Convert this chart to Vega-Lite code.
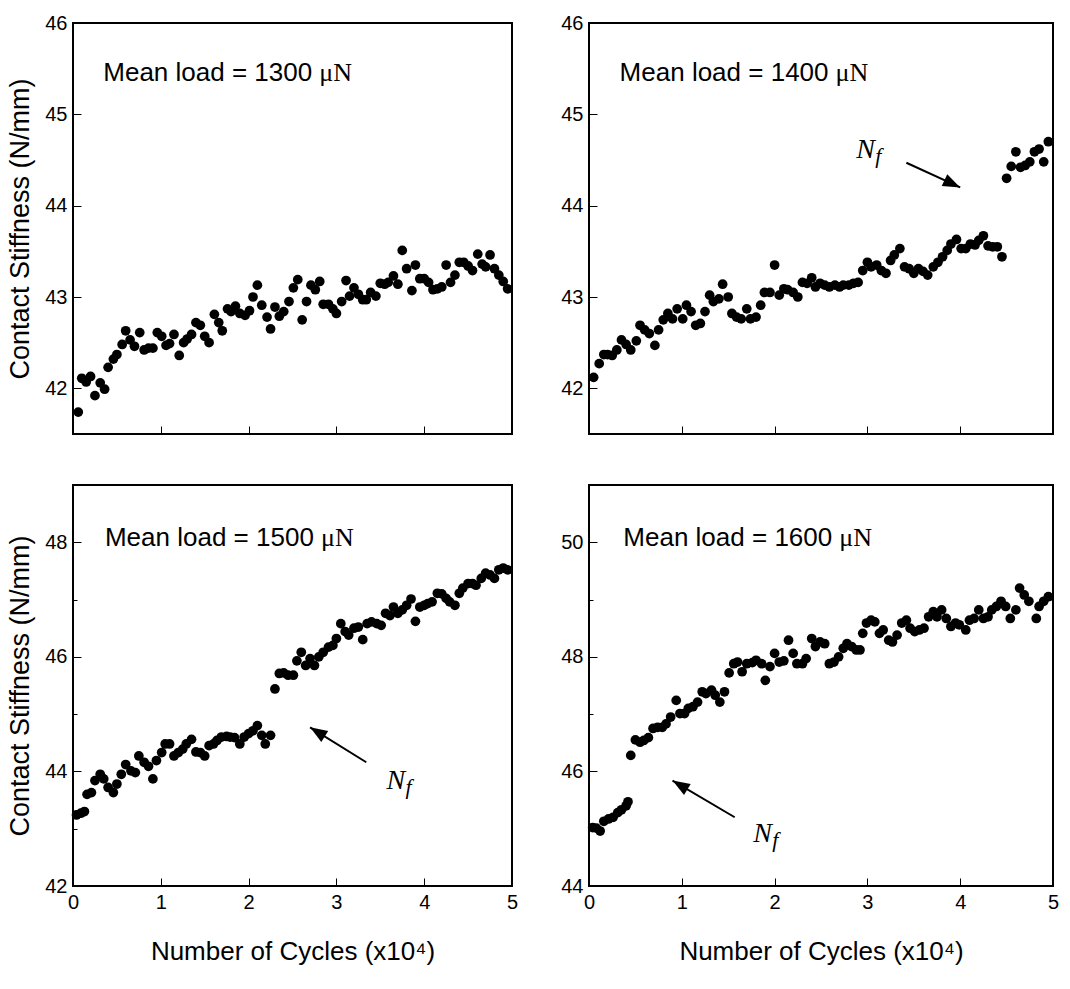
{
  "$schema": "https://vega.github.io/schema/vega-lite/v6.json",
  "padding": {"left": 5, "top": 12, "right": 8, "bottom": 10},
  "background": "white",
  "bounds": "flush",
  "columns": 2,
  "spacing": {"row": 51, "column": 77},
  "datasets": {
    "pts": [
      {"load":1300,"cycles":0.06,"stiffness":41.74},{"load":1300,"cycles":0.10,"stiffness":42.11},{"load":1300,"cycles":0.15,"stiffness":42.07},{"load":1300,"cycles":0.20,"stiffness":42.13},{"load":1300,"cycles":0.25,"stiffness":41.92},{"load":1300,"cycles":0.31,"stiffness":42.06},{"load":1300,"cycles":0.36,"stiffness":41.99},{"load":1300,"cycles":0.40,"stiffness":42.23},{"load":1300,"cycles":0.46,"stiffness":42.32},{"load":1300,"cycles":0.50,"stiffness":42.37},{"load":1300,"cycles":0.56,"stiffness":42.48},{"load":1300,"cycles":0.60,"stiffness":42.63},{"load":1300,"cycles":0.65,"stiffness":42.53},{"load":1300,"cycles":0.70,"stiffness":42.46},{"load":1300,"cycles":0.76,"stiffness":42.61},{"load":1300,"cycles":0.81,"stiffness":42.42},{"load":1300,"cycles":0.86,"stiffness":42.44},{"load":1300,"cycles":0.91,"stiffness":42.44},{"load":1300,"cycles":0.96,"stiffness":42.61},{"load":1300,"cycles":1.01,"stiffness":42.57},{"load":1300,"cycles":1.06,"stiffness":42.47},{"load":1300,"cycles":1.10,"stiffness":42.49},{"load":1300,"cycles":1.15,"stiffness":42.59},{"load":1300,"cycles":1.21,"stiffness":42.36},{"load":1300,"cycles":1.26,"stiffness":42.50},{"load":1300,"cycles":1.30,"stiffness":42.54},{"load":1300,"cycles":1.35,"stiffness":42.59},{"load":1300,"cycles":1.40,"stiffness":42.72},{"load":1300,"cycles":1.45,"stiffness":42.69},{"load":1300,"cycles":1.50,"stiffness":42.57},{"load":1300,"cycles":1.55,"stiffness":42.50},{"load":1300,"cycles":1.61,"stiffness":42.81},{"load":1300,"cycles":1.66,"stiffness":42.72},{"load":1300,"cycles":1.70,"stiffness":42.63},{"load":1300,"cycles":1.76,"stiffness":42.87},{"load":1300,"cycles":1.80,"stiffness":42.84},{"load":1300,"cycles":1.85,"stiffness":42.90},{"load":1300,"cycles":1.90,"stiffness":42.82},{"load":1300,"cycles":1.96,"stiffness":42.80},{"load":1300,"cycles":2.01,"stiffness":42.85},{"load":1300,"cycles":2.05,"stiffness":43.00},{"load":1300,"cycles":2.10,"stiffness":43.13},{"load":1300,"cycles":2.15,"stiffness":42.91},{"load":1300,"cycles":2.21,"stiffness":42.78},{"load":1300,"cycles":2.25,"stiffness":42.65},{"load":1300,"cycles":2.30,"stiffness":42.89},{"load":1300,"cycles":2.35,"stiffness":42.79},{"load":1300,"cycles":2.40,"stiffness":42.84},{"load":1300,"cycles":2.46,"stiffness":42.95},{"load":1300,"cycles":2.51,"stiffness":43.10},{"load":1300,"cycles":2.56,"stiffness":43.19},{"load":1300,"cycles":2.61,"stiffness":42.75},{"load":1300,"cycles":2.66,"stiffness":42.95},{"load":1300,"cycles":2.71,"stiffness":43.13},{"load":1300,"cycles":2.76,"stiffness":43.08},{"load":1300,"cycles":2.81,"stiffness":43.17},{"load":1300,"cycles":2.85,"stiffness":42.92},{"load":1300,"cycles":2.91,"stiffness":42.92},{"load":1300,"cycles":2.96,"stiffness":42.87},{"load":1300,"cycles":3.00,"stiffness":42.82},{"load":1300,"cycles":3.06,"stiffness":42.95},{"load":1300,"cycles":3.11,"stiffness":43.18},{"load":1300,"cycles":3.15,"stiffness":43.01},{"load":1300,"cycles":3.20,"stiffness":43.10},{"load":1300,"cycles":3.25,"stiffness":43.03},{"load":1300,"cycles":3.30,"stiffness":42.97},{"load":1300,"cycles":3.34,"stiffness":42.97},{"load":1300,"cycles":3.39,"stiffness":43.05},{"load":1300,"cycles":3.45,"stiffness":43.01},{"load":1300,"cycles":3.50,"stiffness":43.15},{"load":1300,"cycles":3.55,"stiffness":43.14},{"load":1300,"cycles":3.59,"stiffness":43.16},{"load":1300,"cycles":3.65,"stiffness":43.23},{"load":1300,"cycles":3.70,"stiffness":43.14},{"load":1300,"cycles":3.75,"stiffness":43.51},{"load":1300,"cycles":3.80,"stiffness":43.31},{"load":1300,"cycles":3.86,"stiffness":43.07},{"load":1300,"cycles":3.90,"stiffness":43.35},{"load":1300,"cycles":3.95,"stiffness":43.20},{"load":1300,"cycles":4.00,"stiffness":43.20},{"load":1300,"cycles":4.05,"stiffness":43.16},{"load":1300,"cycles":4.10,"stiffness":43.08},{"load":1300,"cycles":4.15,"stiffness":43.09},{"load":1300,"cycles":4.20,"stiffness":43.11},{"load":1300,"cycles":4.25,"stiffness":43.35},{"load":1300,"cycles":4.30,"stiffness":43.16},{"load":1300,"cycles":4.35,"stiffness":43.24},{"load":1300,"cycles":4.40,"stiffness":43.38},{"load":1300,"cycles":4.45,"stiffness":43.38},{"load":1300,"cycles":4.50,"stiffness":43.34},{"load":1300,"cycles":4.55,"stiffness":43.29},{"load":1300,"cycles":4.61,"stiffness":43.47},{"load":1300,"cycles":4.66,"stiffness":43.36},{"load":1300,"cycles":4.70,"stiffness":43.33},{"load":1300,"cycles":4.75,"stiffness":43.46},{"load":1300,"cycles":4.80,"stiffness":43.31},{"load":1300,"cycles":4.85,"stiffness":43.24},{"load":1300,"cycles":4.90,"stiffness":43.17},{"load":1300,"cycles":4.95,"stiffness":43.09},

      {"load":1400,"cycles":0.05,"stiffness":42.12},{"load":1400,"cycles":0.11,"stiffness":42.27},{"load":1400,"cycles":0.16,"stiffness":42.37},{"load":1400,"cycles":0.20,"stiffness":42.37},{"load":1400,"cycles":0.25,"stiffness":42.36},{"load":1400,"cycles":0.30,"stiffness":42.42},{"load":1400,"cycles":0.35,"stiffness":42.53},{"load":1400,"cycles":0.40,"stiffness":42.48},{"load":1400,"cycles":0.45,"stiffness":42.42},{"load":1400,"cycles":0.51,"stiffness":42.52},{"load":1400,"cycles":0.55,"stiffness":42.69},{"load":1400,"cycles":0.60,"stiffness":42.64},{"load":1400,"cycles":0.65,"stiffness":42.60},{"load":1400,"cycles":0.71,"stiffness":42.47},{"load":1400,"cycles":0.75,"stiffness":42.64},{"load":1400,"cycles":0.80,"stiffness":42.75},{"load":1400,"cycles":0.85,"stiffness":42.82},{"load":1400,"cycles":0.90,"stiffness":42.76},{"load":1400,"cycles":0.95,"stiffness":42.87},{"load":1400,"cycles":1.01,"stiffness":42.76},{"load":1400,"cycles":1.05,"stiffness":42.91},{"load":1400,"cycles":1.10,"stiffness":42.84},{"load":1400,"cycles":1.15,"stiffness":42.69},{"load":1400,"cycles":1.20,"stiffness":42.71},{"load":1400,"cycles":1.25,"stiffness":42.84},{"load":1400,"cycles":1.30,"stiffness":43.02},{"load":1400,"cycles":1.34,"stiffness":42.95},{"load":1400,"cycles":1.40,"stiffness":42.98},{"load":1400,"cycles":1.44,"stiffness":43.14},{"load":1400,"cycles":1.50,"stiffness":43.00},{"load":1400,"cycles":1.54,"stiffness":42.82},{"load":1400,"cycles":1.59,"stiffness":42.78},{"load":1400,"cycles":1.64,"stiffness":42.76},{"load":1400,"cycles":1.70,"stiffness":42.87},{"load":1400,"cycles":1.74,"stiffness":42.76},{"load":1400,"cycles":1.80,"stiffness":42.78},{"load":1400,"cycles":1.85,"stiffness":42.91},{"load":1400,"cycles":1.89,"stiffness":43.05},{"load":1400,"cycles":1.95,"stiffness":43.05},{"load":1400,"cycles":2.00,"stiffness":43.35},{"load":1400,"cycles":2.05,"stiffness":43.02},{"load":1400,"cycles":2.10,"stiffness":43.09},{"load":1400,"cycles":2.14,"stiffness":43.08},{"load":1400,"cycles":2.20,"stiffness":43.05},{"load":1400,"cycles":2.25,"stiffness":43.00},{"load":1400,"cycles":2.30,"stiffness":43.16},{"load":1400,"cycles":2.35,"stiffness":43.15},{"load":1400,"cycles":2.40,"stiffness":43.21},{"load":1400,"cycles":2.44,"stiffness":43.11},{"load":1400,"cycles":2.49,"stiffness":43.15},{"load":1400,"cycles":2.54,"stiffness":43.13},{"load":1400,"cycles":2.59,"stiffness":43.11},{"load":1400,"cycles":2.65,"stiffness":43.13},{"load":1400,"cycles":2.70,"stiffness":43.11},{"load":1400,"cycles":2.74,"stiffness":43.13},{"load":1400,"cycles":2.80,"stiffness":43.13},{"load":1400,"cycles":2.85,"stiffness":43.15},{"load":1400,"cycles":2.90,"stiffness":43.16},{"load":1400,"cycles":2.95,"stiffness":43.29},{"load":1400,"cycles":3.00,"stiffness":43.38},{"load":1400,"cycles":3.04,"stiffness":43.33},{"load":1400,"cycles":3.10,"stiffness":43.35},{"load":1400,"cycles":3.15,"stiffness":43.29},{"load":1400,"cycles":3.20,"stiffness":43.26},{"load":1400,"cycles":3.25,"stiffness":43.40},{"load":1400,"cycles":3.29,"stiffness":43.46},{"load":1400,"cycles":3.35,"stiffness":43.53},{"load":1400,"cycles":3.40,"stiffness":43.33},{"load":1400,"cycles":3.45,"stiffness":43.31},{"load":1400,"cycles":3.50,"stiffness":43.26},{"load":1400,"cycles":3.55,"stiffness":43.31},{"load":1400,"cycles":3.60,"stiffness":43.28},{"load":1400,"cycles":3.65,"stiffness":43.24},{"load":1400,"cycles":3.71,"stiffness":43.33},{"load":1400,"cycles":3.76,"stiffness":43.38},{"load":1400,"cycles":3.81,"stiffness":43.44},{"load":1400,"cycles":3.86,"stiffness":43.51},{"load":1400,"cycles":3.90,"stiffness":43.58},{"load":1400,"cycles":3.96,"stiffness":43.63},{"load":1400,"cycles":4.01,"stiffness":43.53},{"load":1400,"cycles":4.06,"stiffness":43.53},{"load":1400,"cycles":4.11,"stiffness":43.58},{"load":1400,"cycles":4.16,"stiffness":43.57},{"load":1400,"cycles":4.20,"stiffness":43.62},{"load":1400,"cycles":4.25,"stiffness":43.67},{"load":1400,"cycles":4.30,"stiffness":43.56},{"load":1400,"cycles":4.35,"stiffness":43.55},{"load":1400,"cycles":4.40,"stiffness":43.55},{"load":1400,"cycles":4.45,"stiffness":43.44},{"load":1400,"cycles":4.50,"stiffness":44.30},{"load":1400,"cycles":4.55,"stiffness":44.43},{"load":1400,"cycles":4.60,"stiffness":44.59},{"load":1400,"cycles":4.65,"stiffness":44.42},{"load":1400,"cycles":4.70,"stiffness":44.44},{"load":1400,"cycles":4.75,"stiffness":44.48},{"load":1400,"cycles":4.80,"stiffness":44.59},{"load":1400,"cycles":4.85,"stiffness":44.62},{"load":1400,"cycles":4.90,"stiffness":44.48},{"load":1400,"cycles":4.95,"stiffness":44.70},

      {"load":1500,"cycles":0.04,"stiffness":43.24},{"load":1500,"cycles":0.09,"stiffness":43.27},{"load":1500,"cycles":0.13,"stiffness":43.30},{"load":1500,"cycles":0.16,"stiffness":43.60},{"load":1500,"cycles":0.21,"stiffness":43.63},{"load":1500,"cycles":0.25,"stiffness":43.84},{"load":1500,"cycles":0.31,"stiffness":43.95},{"load":1500,"cycles":0.35,"stiffness":43.87},{"load":1500,"cycles":0.40,"stiffness":43.72},{"load":1500,"cycles":0.46,"stiffness":43.63},{"load":1500,"cycles":0.50,"stiffness":43.78},{"load":1500,"cycles":0.55,"stiffness":43.95},{"load":1500,"cycles":0.60,"stiffness":44.12},{"load":1500,"cycles":0.66,"stiffness":44.01},{"load":1500,"cycles":0.71,"stiffness":43.98},{"load":1500,"cycles":0.75,"stiffness":44.27},{"load":1500,"cycles":0.81,"stiffness":44.16},{"load":1500,"cycles":0.86,"stiffness":44.09},{"load":1500,"cycles":0.91,"stiffness":43.87},{"load":1500,"cycles":0.95,"stiffness":44.19},{"load":1500,"cycles":1.01,"stiffness":44.33},{"load":1500,"cycles":1.05,"stiffness":44.48},{"load":1500,"cycles":1.10,"stiffness":44.48},{"load":1500,"cycles":1.15,"stiffness":44.27},{"load":1500,"cycles":1.20,"stiffness":44.33},{"load":1500,"cycles":1.25,"stiffness":44.39},{"load":1500,"cycles":1.29,"stiffness":44.48},{"load":1500,"cycles":1.35,"stiffness":44.56},{"load":1500,"cycles":1.40,"stiffness":44.34},{"load":1500,"cycles":1.45,"stiffness":44.33},{"load":1500,"cycles":1.50,"stiffness":44.27},{"load":1500,"cycles":1.55,"stiffness":44.45},{"load":1500,"cycles":1.60,"stiffness":44.48},{"load":1500,"cycles":1.64,"stiffness":44.54},{"load":1500,"cycles":1.69,"stiffness":44.60},{"load":1500,"cycles":1.75,"stiffness":44.61},{"load":1500,"cycles":1.79,"stiffness":44.60},{"load":1500,"cycles":1.84,"stiffness":44.59},{"load":1500,"cycles":1.90,"stiffness":44.48},{"load":1500,"cycles":1.95,"stiffness":44.60},{"load":1500,"cycles":2.00,"stiffness":44.66},{"load":1500,"cycles":2.05,"stiffness":44.71},{"load":1500,"cycles":2.10,"stiffness":44.80},{"load":1500,"cycles":2.15,"stiffness":44.63},{"load":1500,"cycles":2.19,"stiffness":44.48},{"load":1500,"cycles":2.25,"stiffness":44.63},{"load":1500,"cycles":2.30,"stiffness":45.44},{"load":1500,"cycles":2.35,"stiffness":45.71},{"load":1500,"cycles":2.40,"stiffness":45.72},{"load":1500,"cycles":2.45,"stiffness":45.68},{"load":1500,"cycles":2.51,"stiffness":45.68},{"load":1500,"cycles":2.55,"stiffness":45.93},{"load":1500,"cycles":2.60,"stiffness":46.08},{"load":1500,"cycles":2.65,"stiffness":45.85},{"load":1500,"cycles":2.70,"stiffness":45.97},{"load":1500,"cycles":2.75,"stiffness":45.85},{"load":1500,"cycles":2.80,"stiffness":46.00},{"load":1500,"cycles":2.85,"stiffness":46.08},{"load":1500,"cycles":2.91,"stiffness":46.17},{"load":1500,"cycles":2.96,"stiffness":46.20},{"load":1500,"cycles":3.00,"stiffness":46.32},{"load":1500,"cycles":3.05,"stiffness":46.58},{"load":1500,"cycles":3.10,"stiffness":46.44},{"load":1500,"cycles":3.14,"stiffness":46.38},{"load":1500,"cycles":3.20,"stiffness":46.50},{"load":1500,"cycles":3.25,"stiffness":46.52},{"load":1500,"cycles":3.30,"stiffness":46.30},{"load":1500,"cycles":3.35,"stiffness":46.58},{"load":1500,"cycles":3.40,"stiffness":46.61},{"load":1500,"cycles":3.46,"stiffness":46.58},{"load":1500,"cycles":3.51,"stiffness":46.55},{"load":1500,"cycles":3.56,"stiffness":46.76},{"load":1500,"cycles":3.61,"stiffness":46.72},{"load":1500,"cycles":3.65,"stiffness":46.87},{"load":1500,"cycles":3.70,"stiffness":46.76},{"load":1500,"cycles":3.75,"stiffness":46.82},{"load":1500,"cycles":3.80,"stiffness":46.90},{"load":1500,"cycles":3.85,"stiffness":47.01},{"load":1500,"cycles":3.90,"stiffness":46.62},{"load":1500,"cycles":3.95,"stiffness":46.87},{"load":1500,"cycles":4.00,"stiffness":46.90},{"load":1500,"cycles":4.04,"stiffness":46.93},{"load":1500,"cycles":4.09,"stiffness":46.96},{"load":1500,"cycles":4.15,"stiffness":47.11},{"load":1500,"cycles":4.20,"stiffness":47.10},{"load":1500,"cycles":4.25,"stiffness":47.02},{"load":1500,"cycles":4.29,"stiffness":46.96},{"load":1500,"cycles":4.35,"stiffness":46.90},{"load":1500,"cycles":4.40,"stiffness":47.11},{"load":1500,"cycles":4.44,"stiffness":47.20},{"load":1500,"cycles":4.50,"stiffness":47.28},{"load":1500,"cycles":4.55,"stiffness":47.28},{"load":1500,"cycles":4.59,"stiffness":47.25},{"load":1500,"cycles":4.65,"stiffness":47.37},{"load":1500,"cycles":4.70,"stiffness":47.46},{"load":1500,"cycles":4.75,"stiffness":47.43},{"load":1500,"cycles":4.80,"stiffness":47.37},{"load":1500,"cycles":4.85,"stiffness":47.52},{"load":1500,"cycles":4.90,"stiffness":47.55},{"load":1500,"cycles":4.95,"stiffness":47.52},

      {"load":1600,"cycles":0.04,"stiffness":45.02},{"load":1600,"cycles":0.08,"stiffness":45.01},{"load":1600,"cycles":0.12,"stiffness":44.96},{"load":1600,"cycles":0.16,"stiffness":45.13},{"load":1600,"cycles":0.21,"stiffness":45.17},{"load":1600,"cycles":0.26,"stiffness":45.20},{"load":1600,"cycles":0.31,"stiffness":45.28},{"load":1600,"cycles":0.35,"stiffness":45.33},{"load":1600,"cycles":0.40,"stiffness":45.40},{"load":1600,"cycles":0.42,"stiffness":45.47},{"load":1600,"cycles":0.45,"stiffness":46.28},{"load":1600,"cycles":0.50,"stiffness":46.55},{"load":1600,"cycles":0.55,"stiffness":46.51},{"load":1600,"cycles":0.59,"stiffness":46.54},{"load":1600,"cycles":0.64,"stiffness":46.59},{"load":1600,"cycles":0.69,"stiffness":46.75},{"load":1600,"cycles":0.74,"stiffness":46.77},{"load":1600,"cycles":0.79,"stiffness":46.77},{"load":1600,"cycles":0.83,"stiffness":46.83},{"load":1600,"cycles":0.88,"stiffness":46.95},{"load":1600,"cycles":0.94,"stiffness":47.24},{"load":1600,"cycles":0.98,"stiffness":47.01},{"load":1600,"cycles":1.03,"stiffness":47.01},{"load":1600,"cycles":1.07,"stiffness":47.10},{"load":1600,"cycles":1.12,"stiffness":47.13},{"load":1600,"cycles":1.17,"stiffness":47.21},{"load":1600,"cycles":1.22,"stiffness":47.39},{"load":1600,"cycles":1.26,"stiffness":47.36},{"load":1600,"cycles":1.32,"stiffness":47.42},{"load":1600,"cycles":1.36,"stiffness":47.33},{"load":1600,"cycles":1.41,"stiffness":47.21},{"load":1600,"cycles":1.46,"stiffness":47.39},{"load":1600,"cycles":1.51,"stiffness":47.72},{"load":1600,"cycles":1.56,"stiffness":47.88},{"load":1600,"cycles":1.60,"stiffness":47.91},{"load":1600,"cycles":1.65,"stiffness":47.74},{"load":1600,"cycles":1.70,"stiffness":47.88},{"load":1600,"cycles":1.76,"stiffness":47.90},{"load":1600,"cycles":1.80,"stiffness":47.94},{"load":1600,"cycles":1.86,"stiffness":47.88},{"load":1600,"cycles":1.90,"stiffness":47.59},{"load":1600,"cycles":1.95,"stiffness":47.83},{"load":1600,"cycles":2.00,"stiffness":48.06},{"load":1600,"cycles":2.05,"stiffness":47.91},{"load":1600,"cycles":2.10,"stiffness":47.93},{"load":1600,"cycles":2.15,"stiffness":48.29},{"load":1600,"cycles":2.20,"stiffness":48.06},{"load":1600,"cycles":2.24,"stiffness":47.88},{"load":1600,"cycles":2.30,"stiffness":47.88},{"load":1600,"cycles":2.34,"stiffness":47.97},{"load":1600,"cycles":2.40,"stiffness":48.32},{"load":1600,"cycles":2.44,"stiffness":48.18},{"load":1600,"cycles":2.49,"stiffness":48.26},{"load":1600,"cycles":2.54,"stiffness":48.23},{"load":1600,"cycles":2.59,"stiffness":47.88},{"load":1600,"cycles":2.64,"stiffness":47.91},{"load":1600,"cycles":2.69,"stiffness":48.00},{"load":1600,"cycles":2.74,"stiffness":48.15},{"load":1600,"cycles":2.78,"stiffness":48.23},{"load":1600,"cycles":2.83,"stiffness":48.18},{"load":1600,"cycles":2.88,"stiffness":48.12},{"load":1600,"cycles":2.92,"stiffness":48.12},{"load":1600,"cycles":2.95,"stiffness":48.41},{"load":1600,"cycles":2.99,"stiffness":48.59},{"load":1600,"cycles":3.04,"stiffness":48.64},{"load":1600,"cycles":3.08,"stiffness":48.61},{"load":1600,"cycles":3.13,"stiffness":48.41},{"load":1600,"cycles":3.17,"stiffness":48.47},{"load":1600,"cycles":3.23,"stiffness":48.29},{"load":1600,"cycles":3.27,"stiffness":48.26},{"load":1600,"cycles":3.32,"stiffness":48.38},{"load":1600,"cycles":3.37,"stiffness":48.59},{"load":1600,"cycles":3.42,"stiffness":48.64},{"load":1600,"cycles":3.46,"stiffness":48.50},{"load":1600,"cycles":3.51,"stiffness":48.44},{"load":1600,"cycles":3.56,"stiffness":48.47},{"load":1600,"cycles":3.61,"stiffness":48.50},{"load":1600,"cycles":3.66,"stiffness":48.70},{"load":1600,"cycles":3.71,"stiffness":48.79},{"load":1600,"cycles":3.75,"stiffness":48.70},{"load":1600,"cycles":3.80,"stiffness":48.82},{"load":1600,"cycles":3.85,"stiffness":48.67},{"load":1600,"cycles":3.90,"stiffness":48.53},{"load":1600,"cycles":3.95,"stiffness":48.59},{"load":1600,"cycles":3.99,"stiffness":48.56},{"load":1600,"cycles":4.06,"stiffness":48.47},{"load":1600,"cycles":4.10,"stiffness":48.64},{"load":1600,"cycles":4.15,"stiffness":48.67},{"load":1600,"cycles":4.20,"stiffness":48.82},{"load":1600,"cycles":4.25,"stiffness":48.67},{"load":1600,"cycles":4.30,"stiffness":48.70},{"load":1600,"cycles":4.34,"stiffness":48.82},{"load":1600,"cycles":4.39,"stiffness":48.88},{"load":1600,"cycles":4.44,"stiffness":48.97},{"load":1600,"cycles":4.49,"stiffness":48.88},{"load":1600,"cycles":4.54,"stiffness":48.67},{"load":1600,"cycles":4.60,"stiffness":48.82},{"load":1600,"cycles":4.64,"stiffness":49.20},{"load":1600,"cycles":4.69,"stiffness":49.08},{"load":1600,"cycles":4.74,"stiffness":48.97},{"load":1600,"cycles":4.82,"stiffness":48.67},{"load":1600,"cycles":4.85,"stiffness":48.88},{"load":1600,"cycles":4.90,"stiffness":48.97},{"load":1600,"cycles":4.95,"stiffness":49.05}
    ],
    "titles": [
      {"load":1300,"cycles":0.345,"stiffness":45.37,"text":"Mean load = 1300"},
      {"load":1400,"cycles":0.33,"stiffness":45.37,"text":"Mean load = 1400"},
      {"load":1500,"cycles":0.364,"stiffness":47.93,"text":"Mean load = 1500"},
      {"load":1600,"cycles":0.37,"stiffness":49.93,"text":"Mean load = 1600"}
    ],
    "arrows": [
      {"load":1400,"cycles":3.42,"stiffness":44.47,"tipC":4.00,"tipS":44.20,"labelC":2.88,"labelS":44.52},
      {"load":1500,"cycles":3.34,"stiffness":44.16,"tipC":2.70,"tipS":44.77,"labelC":3.57,"labelS":43.69},
      {"load":1600,"cycles":1.57,"stiffness":45.20,"tipC":0.90,"tipS":45.84,"labelC":1.77,"labelS":44.76}
    ]
  },
  "concat": [
    {
      "width": 439, "height": 411,
      "encoding": {
        "x": {"field": "cycles", "type": "quantitative", "scale": {"domain": [0, 5], "nice": false, "zero": false}, "axis": {"values": [0,1,2,3,4,5], "labels": false, "title": null, "tickSize": -8}},
        "y": {"field": "stiffness", "type": "quantitative", "scale": {"domain": [41.5, 46], "nice": false, "zero": false}, "axis": {"values": [42,42.5,43,43.5,44,44.5,45,45.5,46], "format": "d", "labelExpr": "datum.value % 1 === 0 ? datum.label : ''", "tickSize": {"condition": {"test": "datum.value % 1 !== 0", "value": -4}, "value": -8}, "title": "Contact Stiffness (N/mm)"}}
      },
      "layer": [
        {"data": {"name": "pts"}, "transform": [{"filter": "datum.load === 1300"}], "mark": {"type": "circle", "size": 95, "color": "black", "opacity": 1}},
        {"data": {"name": "titles"}, "transform": [{"filter": "datum.load === 1300"}], "mark": {"type": "text", "align": "left", "baseline": "alphabetic", "font": "Liberation Sans", "fontSize": 26, "color": "black"}, "encoding": {"text": {"field": "text"}}},
        {"data": {"name": "titles"}, "transform": [{"filter": "datum.load === 1300"}], "mark": {"type": "text", "align": "left", "baseline": "alphabetic", "font": "Liberation Serif", "fontSize": 26, "color": "black", "dx": 216}, "encoding": {"text": {"value": "μN"}}}
      ]
    },
    {
      "width": 464, "height": 411,
      "encoding": {
        "x": {"field": "cycles", "type": "quantitative", "scale": {"domain": [0, 5], "nice": false, "zero": false}, "axis": {"values": [0,1,2,3,4,5], "labels": false, "title": null, "tickSize": -8}},
        "y": {"field": "stiffness", "type": "quantitative", "scale": {"domain": [41.5, 46], "nice": false, "zero": false}, "axis": {"values": [42,42.5,43,43.5,44,44.5,45,45.5,46], "format": "d", "labelExpr": "datum.value % 1 === 0 ? datum.label : ''", "tickSize": {"condition": {"test": "datum.value % 1 !== 0", "value": -4}, "value": -8}, "title": null}}
      },
      "layer": [
        {"data": {"name": "pts"}, "transform": [{"filter": "datum.load === 1400"}], "mark": {"type": "circle", "size": 95, "color": "black", "opacity": 1}},
        {"data": {"name": "titles"}, "transform": [{"filter": "datum.load === 1400"}], "mark": {"type": "text", "align": "left", "baseline": "alphabetic", "font": "Liberation Sans", "fontSize": 26, "color": "black"}, "encoding": {"text": {"field": "text"}}},
        {"data": {"name": "titles"}, "transform": [{"filter": "datum.load === 1400"}], "mark": {"type": "text", "align": "left", "baseline": "alphabetic", "font": "Liberation Serif", "fontSize": 26, "color": "black", "dx": 216}, "encoding": {"text": {"value": "μN"}}},
        {"data": {"name": "arrows"}, "transform": [{"filter": "datum.load === 1400"}], "mark": {"type": "rule", "color": "black", "strokeWidth": 2}, "encoding": {"x2": {"field": "tipC"}, "y2": {"field": "tipS"}}},
        {"data": {"name": "arrows"}, "transform": [{"filter": "datum.load === 1400"}], "mark": {"type": "point", "shape": "M0,0L0.75,2L-0.75,2Z", "filled": true, "color": "black", "opacity": 1, "size": 300, "angle": 115, "strokeWidth": 0}, "encoding": {"x": {"field": "tipC", "type": "quantitative"}, "y": {"field": "tipS", "type": "quantitative"}}},
        {"data": {"name": "arrows"}, "transform": [{"filter": "datum.load === 1400"}], "mark": {"type": "text", "align": "left", "baseline": "alphabetic", "font": "Liberation Serif", "fontStyle": "italic", "fontSize": 28, "color": "black"}, "encoding": {"x": {"field": "labelC", "type": "quantitative"}, "y": {"field": "labelS", "type": "quantitative"}, "text": {"value": "N"}}},
        {"data": {"name": "arrows"}, "transform": [{"filter": "datum.load === 1400"}], "mark": {"type": "text", "align": "left", "baseline": "alphabetic", "font": "Liberation Serif", "fontStyle": "italic", "fontSize": 22, "color": "black", "dx": 19, "dy": 5}, "encoding": {"x": {"field": "labelC", "type": "quantitative"}, "y": {"field": "labelS", "type": "quantitative"}, "text": {"value": "f"}}}
      ]
    },
    {
      "width": 439, "height": 401,
      "encoding": {
        "x": {"field": "cycles", "type": "quantitative", "scale": {"domain": [0, 5], "nice": false, "zero": false}, "axis": {"values": [0,1,2,3,4,5], "title": "Number of Cycles (x10⁴)", "tickSize": -8}},
        "y": {"field": "stiffness", "type": "quantitative", "scale": {"domain": [42, 49], "nice": false, "zero": false}, "axis": {"values": [42,43,44,45,46,47,48,49], "format": "d", "labelExpr": "datum.value % 2 === 0 ? datum.label : ''", "tickSize": {"condition": {"test": "datum.value % 2 !== 0", "value": -4}, "value": -8}, "title": "Contact Stiffness (N/mm)"}}
      },
      "layer": [
        {"data": {"name": "pts"}, "transform": [{"filter": "datum.load === 1500"}], "mark": {"type": "circle", "size": 95, "color": "black", "opacity": 1}},
        {"data": {"name": "titles"}, "transform": [{"filter": "datum.load === 1500"}], "mark": {"type": "text", "align": "left", "baseline": "alphabetic", "font": "Liberation Sans", "fontSize": 26, "color": "black"}, "encoding": {"text": {"field": "text"}}},
        {"data": {"name": "titles"}, "transform": [{"filter": "datum.load === 1500"}], "mark": {"type": "text", "align": "left", "baseline": "alphabetic", "font": "Liberation Serif", "fontSize": 26, "color": "black", "dx": 216}, "encoding": {"text": {"value": "μN"}}},
        {"data": {"name": "arrows"}, "transform": [{"filter": "datum.load === 1500"}], "mark": {"type": "rule", "color": "black", "strokeWidth": 2}, "encoding": {"x2": {"field": "tipC"}, "y2": {"field": "tipS"}}},
        {"data": {"name": "arrows"}, "transform": [{"filter": "datum.load === 1500"}], "mark": {"type": "point", "shape": "M0,0L0.75,2L-0.75,2Z", "filled": true, "color": "black", "opacity": 1, "size": 300, "angle": 302, "strokeWidth": 0}, "encoding": {"x": {"field": "tipC", "type": "quantitative"}, "y": {"field": "tipS", "type": "quantitative"}}},
        {"data": {"name": "arrows"}, "transform": [{"filter": "datum.load === 1500"}], "mark": {"type": "text", "align": "left", "baseline": "alphabetic", "font": "Liberation Serif", "fontStyle": "italic", "fontSize": 28, "color": "black"}, "encoding": {"x": {"field": "labelC", "type": "quantitative"}, "y": {"field": "labelS", "type": "quantitative"}, "text": {"value": "N"}}},
        {"data": {"name": "arrows"}, "transform": [{"filter": "datum.load === 1500"}], "mark": {"type": "text", "align": "left", "baseline": "alphabetic", "font": "Liberation Serif", "fontStyle": "italic", "fontSize": 22, "color": "black", "dx": 19, "dy": 5}, "encoding": {"x": {"field": "labelC", "type": "quantitative"}, "y": {"field": "labelS", "type": "quantitative"}, "text": {"value": "f"}}}
      ]
    },
    {
      "width": 464, "height": 401,
      "encoding": {
        "x": {"field": "cycles", "type": "quantitative", "scale": {"domain": [0, 5], "nice": false, "zero": false}, "axis": {"values": [0,1,2,3,4,5], "title": "Number of Cycles (x10⁴)", "tickSize": -8}},
        "y": {"field": "stiffness", "type": "quantitative", "scale": {"domain": [44, 51], "nice": false, "zero": false}, "axis": {"values": [44,45,46,47,48,49,50,51], "format": "d", "labelExpr": "datum.value % 2 === 0 ? datum.label : ''", "tickSize": {"condition": {"test": "datum.value % 2 !== 0", "value": -4}, "value": -8}, "title": null}}
      },
      "layer": [
        {"data": {"name": "pts"}, "transform": [{"filter": "datum.load === 1600"}], "mark": {"type": "circle", "size": 95, "color": "black", "opacity": 1}},
        {"data": {"name": "titles"}, "transform": [{"filter": "datum.load === 1600"}], "mark": {"type": "text", "align": "left", "baseline": "alphabetic", "font": "Liberation Sans", "fontSize": 26, "color": "black"}, "encoding": {"text": {"field": "text"}}},
        {"data": {"name": "titles"}, "transform": [{"filter": "datum.load === 1600"}], "mark": {"type": "text", "align": "left", "baseline": "alphabetic", "font": "Liberation Serif", "fontSize": 26, "color": "black", "dx": 216}, "encoding": {"text": {"value": "μN"}}},
        {"data": {"name": "arrows"}, "transform": [{"filter": "datum.load === 1600"}], "mark": {"type": "rule", "color": "black", "strokeWidth": 2}, "encoding": {"x2": {"field": "tipC"}, "y2": {"field": "tipS"}}},
        {"data": {"name": "arrows"}, "transform": [{"filter": "datum.load === 1600"}], "mark": {"type": "point", "shape": "M0,0L0.75,2L-0.75,2Z", "filled": true, "color": "black", "opacity": 1, "size": 300, "angle": 301, "strokeWidth": 0}, "encoding": {"x": {"field": "tipC", "type": "quantitative"}, "y": {"field": "tipS", "type": "quantitative"}}},
        {"data": {"name": "arrows"}, "transform": [{"filter": "datum.load === 1600"}], "mark": {"type": "text", "align": "left", "baseline": "alphabetic", "font": "Liberation Serif", "fontStyle": "italic", "fontSize": 28, "color": "black"}, "encoding": {"x": {"field": "labelC", "type": "quantitative"}, "y": {"field": "labelS", "type": "quantitative"}, "text": {"value": "N"}}},
        {"data": {"name": "arrows"}, "transform": [{"filter": "datum.load === 1600"}], "mark": {"type": "text", "align": "left", "baseline": "alphabetic", "font": "Liberation Serif", "fontStyle": "italic", "fontSize": 22, "color": "black", "dx": 19, "dy": 5}, "encoding": {"x": {"field": "labelC", "type": "quantitative"}, "y": {"field": "labelS", "type": "quantitative"}, "text": {"value": "f"}}}
      ]
    }
  ],
  "config": {
    "view": {"stroke": "black", "strokeWidth": 2},
    "axis": {"domain": false, "grid": false, "ticks": true, "tickColor": "black", "tickWidth": 1, "labelFont": "Liberation Sans", "labelFontSize": 20, "labelColor": "black", "titleFont": "Liberation Sans", "titleFontWeight": "normal", "titleColor": "black", "labelPadding": 14, "labelFlush": false},
    "axisY": {"titleFontSize": 27, "titlePadding": 10},
    "axisX": {"titleFontSize": 26, "titlePadding": 26}
  }
}
